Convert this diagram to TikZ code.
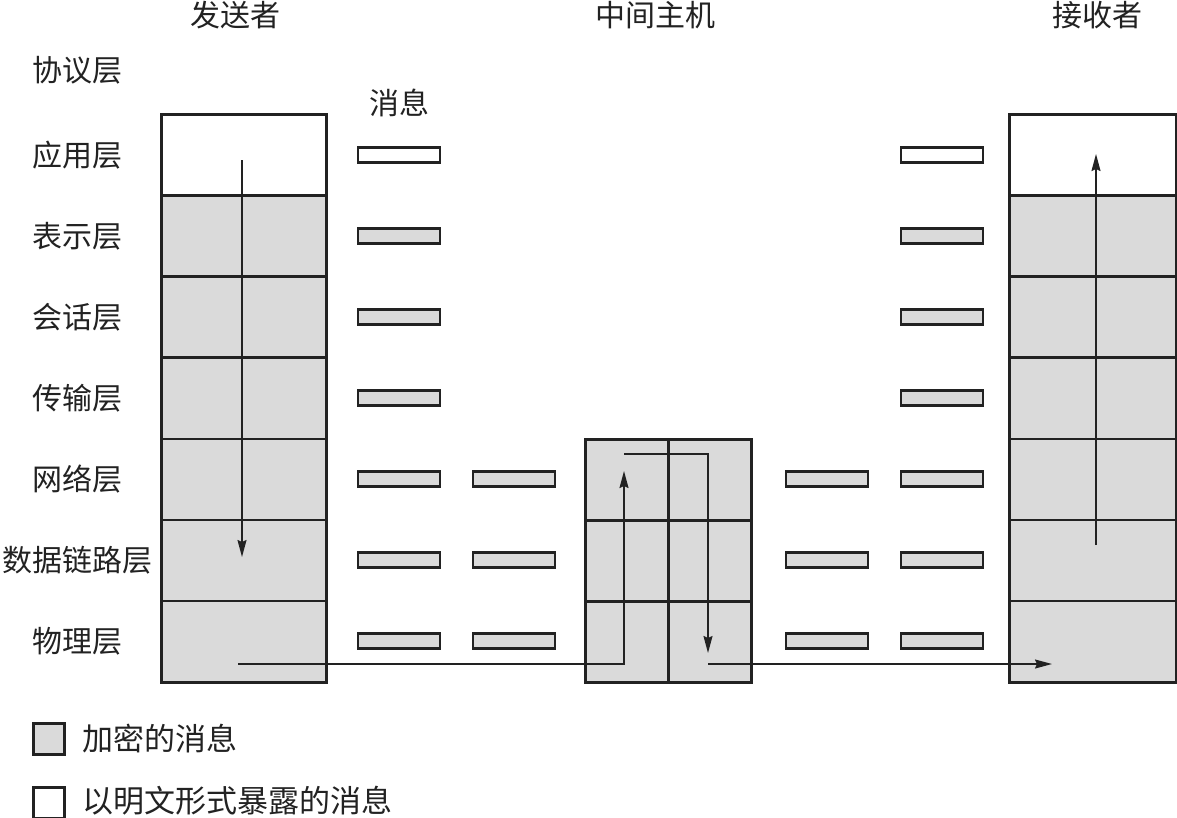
\documentclass[tikz,border=0pt]{standalone}
\usepackage{fontspec}
\setmainfont{Noto Sans CJK SC}
\usetikzlibrary{arrows.meta}
\definecolor{lgray}{HTML}{DADADA}
\definecolor{ink}{HTML}{222222}
\begin{document}
\begin{tikzpicture}[x=1pt,y=-1pt,
  cell/.style={draw=ink, line width=2.6pt, fill=lgray, minimum width=165pt, minimum height=81.1pt, inner sep=0pt, anchor=north west},
  wcell/.style={cell, fill=white},
  mcell/.style={draw=ink, line width=2.6pt, fill=lgray, minimum width=83pt, minimum height=81.1pt, inner sep=0pt, anchor=north west},
  msg/.style={draw=ink, line width=2.8pt, fill=lgray, minimum width=82pt, minimum height=15pt, inner sep=0pt},
  wmsg/.style={msg, fill=white},
  lbl/.style={font=\fontsize{30}{32}\selectfont, inner sep=0pt, text=ink},
  leglbl/.style={font=\fontsize{31}{33}\selectfont, inner sep=0pt, text=ink},
  arr/.style={draw=ink, line width=1.5pt, -{Stealth[length=17pt,width=9pt,inset=2pt]}},
  legbox/.style={draw=ink, line width=2.6pt, minimum size=31pt, inner sep=0pt, anchor=north west}
]
\useasboundingbox (0,0) rectangle (1177,817);

% titles
\node[lbl] (t1) at (235,15) {发送者};
\node[lbl] (t2) at (655,15) {中间主机};
\node[lbl] (t3) at (1097,15) {接收者};
\node[lbl] (proto) at (77,70) {协议层};
\node[lbl] (msgt) at (399,103) {消息};

% layer labels
\foreach \t [count=\i from 0] in {应用层,表示层,会话层,传输层,网络层,数据链路层,物理层}{
  \node[lbl] (L\i) at (77,{155+81*\i}) {\t};
}

% sender and receiver stacks
\node[wcell] (s0) at (160,113) {};
\node[wcell, minimum width=167pt] (r0) at (1008,113) {};
\foreach \i in {1,...,6}{
  \node[cell] (s\i) at (160,{113+81.14*\i}) {};
  \node[cell, minimum width=167pt] (r\i) at (1008,{113+81.14*\i}) {};
}

% intermediate host
\foreach \i in {0,1,2}{
  \node[mcell] (ma\i) at (584,{438+81.14*\i}) {};
  \node[mcell] (mb\i) at (667,{438+81.14*\i}) {};
}

% messages
\node[wmsg] (p0) at (399,155) {};
\node[wmsg] (q0) at (942,155) {};
\foreach \i in {1,...,6}{
  \node[msg] (p\i) at (399,{155+81*\i}) {};
  \node[msg] (q\i) at (942,{155+81*\i}) {};
}
\foreach \i in {4,5,6}{
  \node[msg] (pp\i) at (514,{155+81*\i}) {};
  \node[msg] (qq\i) at (827,{155+81*\i}) {};
}

% arrows
\coordinate (a1) at (242,160);
\coordinate (a2) at (242,557);
\draw[arr] (a1) -- (a2);

\coordinate (b1) at (238,664);
\coordinate (b2) at (624,664);
\coordinate (b3) at (624,471);
\draw[arr] (b1) -- (b2) -- (b3);

\coordinate (c1) at (624,454);
\coordinate (c2) at (708,454);
\coordinate (c3) at (708,653);
\draw[arr] (c1) -- (c2) -- (c3);

\coordinate (d1) at (708,664);
\coordinate (d2) at (1052,664);
\draw[arr] (d1) -- (d2);

\coordinate (e1) at (1096,545);
\coordinate (e2) at (1096,154);
\draw[arr] (e1) -- (e2);

% legend
\node[legbox, fill=lgray] (g1) at (32,722) {};
\node[leglbl, anchor=west] (g1t) at (82,739) {加密的消息};
\node[legbox, fill=white] (g2) at (32,786) {};
\node[leglbl, anchor=west] (g2t) at (82,801) {以明文形式暴露的消息};
\end{tikzpicture}
\end{document}
